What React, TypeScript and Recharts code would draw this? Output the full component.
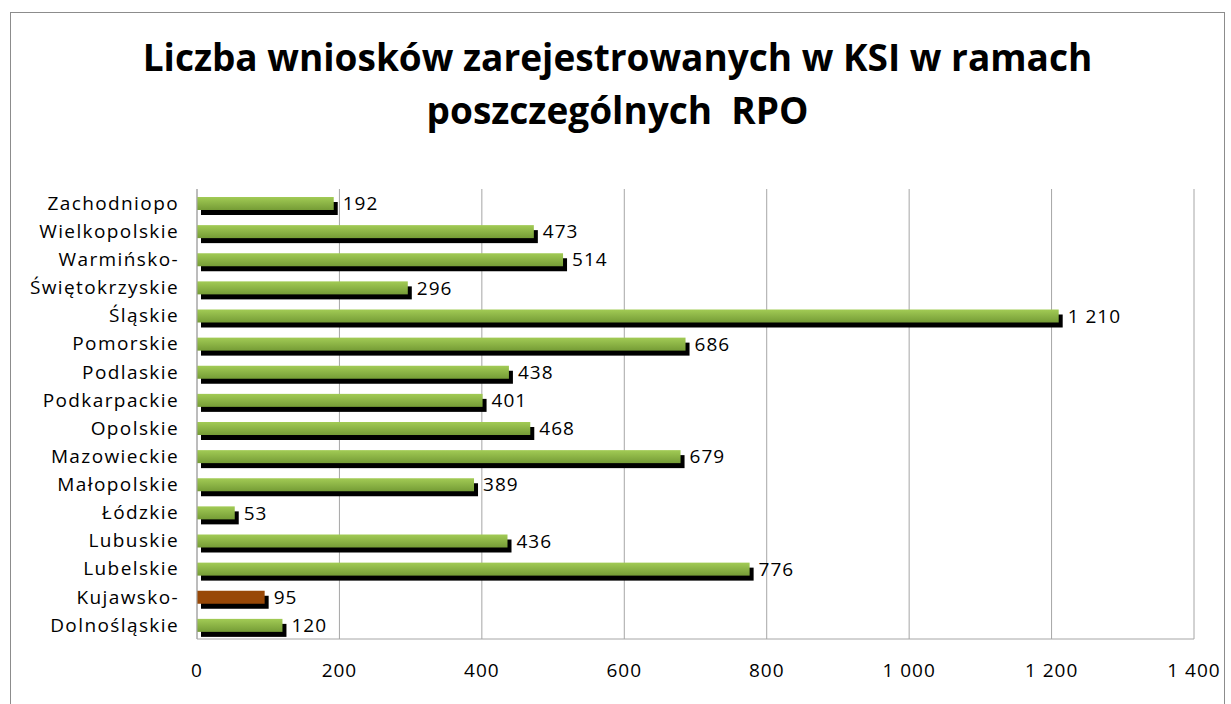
import * as React from 'react';
import { Bar, BarChart, XAxis, YAxis, CartesianGrid, LabelList, Cell } from 'recharts';

const regions = [
  'Zachodniopo',
  'Wielkopolskie',
  'Warmińsko-',
  'Świętokrzyskie',
  'Śląskie',
  'Pomorskie',
  'Podlaskie',
  'Podkarpackie',
  'Opolskie',
  'Mazowieckie',
  'Małopolskie',
  'Łódzkie',
  'Lubuskie',
  'Lubelskie',
  'Kujawsko-',
  'Dolnośląskie',
];
const applications = [192, 473, 514, 296, 1210, 686, 438, 401, 468, 679, 389, 53, 436, 776, 95, 120];
const xTicks = [0, 200, 400, 600, 800, 1000, 1200, 1400];
const highlighted = ['Kujawsko-'];

const data = regions.map((name, i) => ({ name, value: applications[i] }));

const fmt = (v: number) => String(v).replace(/\B(?=(\d{3})+(?!\d))/g, ' ');

const FONT = '"Open Sans", sans-serif';

// bar with a black drop shadow, offset right and down
const ShadowBar = (props: any) => {
  const { x, y, width, height, fill } = props;
  if (!width || width <= 0) return null;
  return (
    <g>
      <rect x={x + 4} y={y + 5} width={width} height={height} fill="#000" />
      <rect x={x} y={y} width={width} height={height} fill={fill} />
    </g>
  );
};

export default function App() {
  return (
    <div
      style={{
        position: 'absolute',
        left: 10,
        top: 12,
        width: 1213,
        height: 700,
        border: '1px solid #8c8c8c',
        background: '#fff',
      }}
    >
      <div
        style={{
          position: 'absolute',
          left: 0,
          right: 0,
          top: 17,
          textAlign: 'center',
          fontFamily: FONT,
          fontWeight: 700,
          fontSize: 37,
          lineHeight: '53px',
          color: '#000',
        }}
      >
        Liczba wniosków zarejestrowanych w KSI w ramach
        <br />
        poszczególnych&nbsp; RPO
      </div>
      <BarChart
        width={1213}
        height={690}
        data={data}
        layout="vertical"
        barCategoryGap={0}
        margin={{ top: 176, right: 30, bottom: 24, left: 10 }}
      >
        <defs>
          <linearGradient id="greenGrad" x1="0" y1="0" x2="0" y2="1">
            <stop offset="0%" stopColor="#a2cb55" />
            <stop offset="100%" stopColor="#759c36" />
          </linearGradient>
        </defs>
        <CartesianGrid horizontal={false} stroke="#a6a6a6" />
        <XAxis
          type="number"
          domain={[0, 1400]}
          ticks={xTicks}
          tickFormatter={fmt}
          tickLine={false}
          tickSize={0}
          tickMargin={25}
          height={40}
          axisLine={{ stroke: '#a6a6a6' }}
          tick={{ fill: '#000', fontSize: 19, fontFamily: FONT, letterSpacing: 1 }}
        />
        <YAxis
          type="category"
          dataKey="name"
          width={176}
          tickLine={false}
          tickSize={0}
          tickMargin={18}
          axisLine={{ stroke: '#a6a6a6' }}
          interval={0}
          tick={{ fill: '#000', fontSize: 19, fontFamily: FONT, letterSpacing: 1.4 }}
        />
        <Bar dataKey="value" barSize={13} shape={<ShadowBar />} isAnimationActive={false}>
          {data.map((d, i) => (
            <Cell key={`cell-${i}`} fill={highlighted.includes(d.name) ? '#984807' : 'url(#greenGrad)'} />
          ))}
          <LabelList
            dataKey="value"
            position="right"
            offset={9}
            formatter={(v: any) => fmt(v as number)}
            style={{ fill: '#000', fontSize: 19, fontFamily: FONT, letterSpacing: 1 }}
          />
        </Bar>
      </BarChart>
    </div>
  );
}
